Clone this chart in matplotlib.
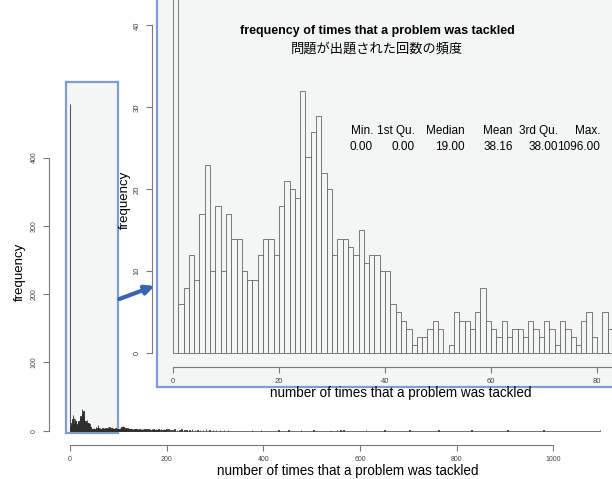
import numpy as np
import matplotlib
matplotlib.use("Agg")
import matplotlib.pyplot as plt
from matplotlib.patches import Rectangle, FancyArrowPatch

plt.rcParams['font.family'] = ['Liberation Sans', 'Noto Sans CJK JP', 'DejaVu Sans']

# --- data: frequency of each count (bins of width 1) ---
head_counts = [479, 6, 8, 12, 9, 17, 23, 10, 18, 10,
               17, 14, 14, 10, 9, 9, 12, 14, 14, 12,
               18, 21, 20, 19, 32, 24, 27, 29, 22, 20,
               12, 14, 14, 13, 12, 15, 11, 12, 12, 10,
               10, 6, 5, 4, 3, 1, 2, 2, 3, 4,
               3, 0, 1, 5, 4, 4, 3, 5, 8, 4,
               3, 2, 4, 2, 3, 3, 2, 4, 3, 2,
               4, 3, 1, 4, 3, 2, 1, 4, 5, 2,
               0, 5, 3]
# 83 .. 199
mid_counts = [3, 2, 4, 3, 2, 3, 4, 2, 3, 3, 2, 4, 3, 2, 3, 2, 3,
              2, 3, 2, 4, 3, 3, 5, 4, 6, 7, 5, 4, 3, 3, 4, 2, 3, 2, 3, 4, 2, 2, 3, 2, 1, 3, 2, 2, 3, 1,
              2, 1, 2, 3, 1, 2, 1, 2, 0, 1, 2, 1, 3, 2, 1, 0, 2, 1, 1, 2, 1, 2, 0, 1, 2, 1, 1, 3, 2, 1,
              0, 1, 2, 1, 1, 2, 0, 1, 1, 2, 1, 0, 2, 1, 1, 0, 1, 2, 1, 1, 0, 1, 1, 2, 0, 1, 1, 0, 2, 1,
              1, 0, 1, 1, 2, 1, 0, 1, 1, 2]
# sparse tail: (count value, frequency)
tail_values = [203, 207, 212, 216, 221, 226, 230, 236, 241, 247, 252, 258, 263, 269,
               275, 281, 288, 295, 302, 310, 318, 326, 376, 395, 431, 452, 478, 503,
               552, 559, 565, 612, 650, 702, 762, 830, 905, 979, 1096]
tail_freq = [2, 1, 1, 2, 1, 1, 2, 1, 1, 1, 2, 1, 1, 1,
             1, 2, 1, 1, 1, 1, 1, 1, 1, 1, 1, 1, 1, 1,
             1, 1, 1, 1, 1, 1, 1, 1, 1, 1, 1]

stat_labels = ['Min.', '1st Qu.', 'Median', 'Mean', '3rd Qu.', 'Max.']
stat_values = ['0.00', '0.00', '19.00', '38.16', '38.00', '1096.00']

counts = np.zeros(1097)
counts[:len(head_counts)] = head_counts
counts[83:83 + len(mid_counts)] = mid_counts
counts[tail_values] = tail_freq
bins = np.arange(len(counts))

zoom_lo, zoom_hi = 0, 100

W, H = 612, 479
fig = plt.figure(figsize=(W / 100, H / 100), dpi=100)


def fx(px):
    return px / W


def fy(py):
    return 1 - py / H


axis_col = '#7a7a7a'
tick_col = '#444444'
box_edge = '#7f9bd4'
box_fill = '#f4f6f5'

# ---------- main histogram ----------
ax = fig.add_axes([fx(49), fy(444.7), fx(612) - fx(49), fy(80) - fy(444.7)])
ax.set_facecolor('none')
ax.bar(bins, counts, width=1, align='edge', color='#2e2e2e', edgecolor='#2e2e2e',
       linewidth=0.6, zorder=2)
ax.add_patch(Rectangle((zoom_lo - 8, -4), zoom_hi - zoom_lo + 8, 514, facecolor=box_fill,
                       edgecolor=box_edge, linewidth=1.6, zorder=1))
ax.set_xlim(-43.4, 1121.4)
ax.set_ylim(-20.5, 513.5)
for s in ['top', 'right']:
    ax.spines[s].set_visible(False)
ax.spines['left'].set_bounds(0, 400)
ax.spines['bottom'].set_bounds(0, 1000)
for s in ['left', 'bottom']:
    ax.spines[s].set_color(axis_col)
    ax.spines[s].set_linewidth(0.8)
ax.set_xticks(range(0, 1001, 200))
ax.set_yticks(range(0, 401, 100))
ax.tick_params(colors=axis_col, labelcolor=tick_col, labelsize=5, length=4, width=0.8, pad=4)
plt.setp(ax.get_yticklabels(), rotation=90, va='center')

fig.text(fx(20), fy(271.5), 'frequency', rotation=90, ha='center', va='center', fontsize=9.5)
fig.text(fx(348), fy(471), 'number of times that a problem was tackled', ha='center',
         va='center', fontsize=9.75)

# ---------- zoomed inset ----------
fig.add_artist(Rectangle((fx(157), fy(387)), fx(700) - fx(157), fy(-10) - fy(387),
                         transform=fig.transFigure, facecolor=box_fill, edgecolor=box_edge,
                         linewidth=1.6, zorder=0.5))

ax2 = fig.add_axes([fx(152), fy(366.7), fx(700) - fx(152), fy(0) - fy(366.7)], zorder=1)
ax2.set_facecolor('none')
sel = bins < zoom_hi
ax2.bar(bins[sel], counts[sel], width=1, align='edge', facecolor=box_fill,
        edgecolor='#666666', linewidth=0.6)
ax2.set_xlim(-3.96, 99.43)
ax2.set_ylim(-1.634, 43.09)
for s in ['top', 'right']:
    ax2.spines[s].set_visible(False)
ax2.spines['left'].set_bounds(0, 40)
ax2.spines['bottom'].set_bounds(0, 100)
for s in ['left', 'bottom']:
    ax2.spines[s].set_color(axis_col)
    ax2.spines[s].set_linewidth(0.8)
ax2.set_xticks(range(0, 81, 20))
ax2.set_yticks(range(0, 41, 10))
ax2.tick_params(colors=axis_col, labelcolor=tick_col, labelsize=5.5, length=4, width=0.8, pad=4)
plt.setp(ax2.get_yticklabels(), rotation=90, va='center')

fig.text(fx(125), fy(200), 'frequency', rotation=90, ha='center', va='center', fontsize=9.5)
fig.text(fx(401), fy(393.3), 'number of times that a problem was tackled', ha='center',
         va='center', fontsize=9.75)

fig.text(fx(377), fy(31), 'frequency of times that a problem was tackled', ha='center',
         va='center', fontsize=9, fontweight='bold')
fig.text(fx(377), fy(49), '問題が出題された回数の頻度', ha='center', va='center', fontsize=9.5)

col_right = [373, 415, 465, 512.7, 558, 600]
for cx, lab, val in zip(col_right, stat_labels, stat_values):
    fig.text(fx(cx), fy(131), lab, ha='right', va='center', fontsize=8.5)
    fig.text(fx(cx), fy(147), val, ha='right', va='center', fontsize=8.5)

arrow = FancyArrowPatch((fx(116.7), fy(300)), (fx(157), fy(285)), transform=fig.transFigure,
                        arrowstyle='-|>', mutation_scale=13, linewidth=3, color='#3a63b4',
                        zorder=3)
fig.add_artist(arrow)

fig.savefig('out.png', dpi=100)
